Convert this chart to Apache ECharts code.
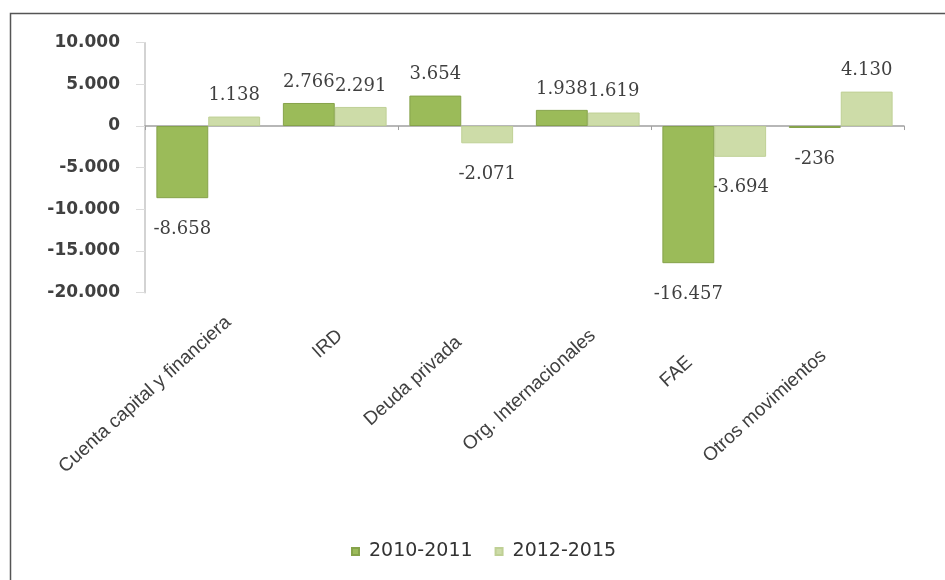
<!DOCTYPE html>
<html>
<head>
<meta charset="utf-8">
<script src="https://cdn.jsdelivr.net/npm/echarts@6/dist/echarts.min.js"></script>
<style>
html,body{margin:0;padding:0;background:#fff;}
#chart{width:945px;height:580px;}
</style>
</head>
<body>
<div id="chart"></div>
<script>
const categories = ['Cuenta capital y financiera', 'IRD', 'Deuda privada', 'Org. Internacionales', 'FAE', 'Otros movimientos'];
const seriesNames = ['2010-2011', '2012-2015'];
const values2010_2011 = [-8658, 2766, 3654, 1938, -16457, -236];
const values2012_2015 = [1138, 2291, -2071, 1619, -3694, 4130];
const yTicks = { min: -20000, max: 10000, interval: 5000 };

function fmt(v) {
  const s = Math.abs(v).toString().replace(/\B(?=(\d{3})+(?!\d))/g, '.');
  return (v < 0 ? '-' : '') + s;
}
function toData(arr) {
  return arr.map(v => ({
    value: v,
    label: { position: v < 0 ? 'bottom' : 'top', distance: v < 0 ? 22 : 12 }
  }));
}

const labelShift = [0, 20, 30, 20, 60, 50];
const rich = {};
labelShift.forEach((p, i) => {
  rich['c' + i] = { fontFamily: 'Liberation Sans, Arial, sans-serif', fontSize: 19, color: '#404040', padding: [0, p, 0, 0] };
});

const chart = echarts.init(document.getElementById('chart'), null, { renderer: 'canvas' });
const valueLabel = {
  show: true,
  formatter: p => fmt(p.value),
  fontFamily: 'DejaVu Serif, serif',
  fontSize: 18,
  color: '#404040'
};
chart.setOption({
  animation: false,
  backgroundColor: '#ffffff',
  graphic: [{
    type: 'rect', left: 8, top: 11, shape: { width: 1200, height: 900 },
    style: { fill: 'none', stroke: '#555', lineWidth: 1.5 }, silent: true, z: -1
  }],
  grid: [
    { left: 145, right: 41, top: 42.7, bottom: 287.3 },
    { left: 165, right: 21, top: 42.7, bottom: 287.3 }
  ],
  legend: {
    data: seriesNames,
    left: 346, top: 537,
    icon: 'rect', itemWidth: 7, itemHeight: 7, itemGap: 22,
    textStyle: { fontFamily: 'DejaVu Sans, sans-serif', fontSize: 19, color: '#333', padding: [0, 0, 0, 5] }
  },
  xAxis: [
    {
      type: 'category', gridIndex: 0, data: categories,
      axisLine: { onZero: true, lineStyle: { color: '#a0a0a0', width: 1.5 } },
      axisTick: { show: true, length: 4, lineStyle: { color: '#a0a0a0' } },
      axisLabel: { show: false }
    },
    {
      type: 'category', gridIndex: 1, data: categories, position: 'bottom',
      axisLine: { show: false, onZero: false },
      axisTick: { show: false },
      axisLabel: {
        show: true, rotate: 42, margin: 27, interval: 0,
        formatter: (v, i) => '{c' + i + '|' + v + '}',
        rich: rich
      }
    }
  ],
  yAxis: [
    {
      type: 'value', gridIndex: 0, min: yTicks.min, max: yTicks.max, interval: yTicks.interval,
      splitLine: { show: false },
      axisLine: { show: true, lineStyle: { color: '#c4c4c4', width: 1.5 } },
      axisTick: { show: true, length: 9, lineStyle: { color: '#dcdcdc' } },
      axisLabel: {
        margin: 25, formatter: v => fmt(v),
        fontFamily: 'DejaVu Sans, sans-serif', fontWeight: 'bold', fontSize: 17, color: '#404040'
      }
    },
    {
      type: 'value', gridIndex: 1, min: yTicks.min, max: yTicks.max, interval: yTicks.interval,
      show: false
    }
  ],
  series: [
    {
      name: seriesNames[0], type: 'bar', xAxisIndex: 0, yAxisIndex: 0,
      data: toData(values2010_2011), barGap: '0%', barCategoryGap: '18%', z: 3,
      itemStyle: { color: '#9bbb59', borderColor: '#86a34a', borderWidth: 1 },
      label: valueLabel
    },
    {
      name: seriesNames[1], type: 'bar', xAxisIndex: 0, yAxisIndex: 0,
      data: toData(values2012_2015), barGap: '0%', barCategoryGap: '18%', z: 2,
      itemStyle: { color: '#cddca8', borderColor: '#bfd095', borderWidth: 1 },
      label: valueLabel
    }
  ]
});
</script>
</body>
</html>
